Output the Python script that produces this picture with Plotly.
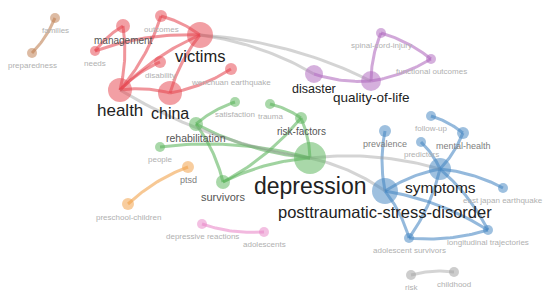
import plotly.graph_objects as go
import numpy as np

# ---------------- data ----------------
names = ["families", "preparedness",
         "victims", "management", "outcomes", "needs", "disability", "wenchuan earthquake", "health", "china",
         "depression", "rehabilitation", "satisfaction", "trauma", "risk-factors", "people", "survivors",
         "ptsd", "preschool-children",
         "depressive reactions", "adolescents",
         "disaster", "quality-of-life", "spinal-cord-injury", "functional outcomes",
         "posttraumatic-stress-disorder", "symptoms", "prevalence", "follow-up", "predictors", "mental-health",
         "east japan earthquake", "longitudinal trajectories", "adolescent survivors",
         "risk", "childhood"]
node_x = [55, 32,
          200, 123, 161, 95, 160, 231, 120, 170,
          310, 196, 235, 270, 301, 160, 223,
          188, 128,
          202, 264,
          314, 371, 381, 431,
          385, 440, 385, 431, 421, 463, 503, 488, 409,
          411, 454]
node_y = [18, 53,
          35, 26, 16, 51, 62, 69, 90, 93,
          158, 124, 102, 104, 118, 147, 182,
          167, 204,
          224, 232,
          74, 81, 33, 59,
          191, 169, 131, 116, 142, 133, 188, 230, 238,
          275, 272]
node_r = [5, 5,
          13, 7, 6, 5, 6, 6, 12, 12,
          16, 7, 5, 5, 6, 5, 7,
          6, 6,
          5, 5,
          9, 10, 5, 5,
          13, 11, 6, 5, 5, 6, 5, 5, 5,
          5, 5]
cluster = ["brown", "brown",
           "red", "red", "red", "red", "red", "red", "red", "red",
           "green", "green", "green", "green", "green", "green", "green",
           "orange", "orange",
           "pink", "pink",
           "purple", "purple", "purple", "purple",
           "blue", "blue", "blue", "blue", "blue", "blue", "blue", "blue", "blue",
           "grey", "grey"]
label_size = [8, 8,
              16.5, 10, 8, 8, 8, 8, 17, 16,
              23, 10.5, 8, 8, 10, 8, 11,
              9, 8,
              8, 8,
              12.5, 13.5, 8, 8,
              16.5, 15.5, 9, 8, 8, 9, 8, 8, 8,
              8, 8]

edges = [("families", "preparedness", "brown"),
         ("needs", "management", "red"), ("needs", "victims", "red"), ("management", "health", "red"),
         ("outcomes", "victims", "red"), ("outcomes", "health", "red"), ("health", "disability", "red"),
         ("health", "victims", "red"), ("china", "victims", "red"), ("wenchuan earthquake", "china", "red"),
         ("health", "china", "red"),
         ("rehabilitation", "satisfaction", "green"), ("depression", "rehabilitation", "green"),
         ("rehabilitation", "survivors", "green"), ("people", "depression", "green"),
         ("survivors", "depression", "green"), ("risk-factors", "survivors", "green"),
         ("trauma", "risk-factors", "green"), ("risk-factors", "depression", "green"),
         ("preschool-children", "ptsd", "orange"),
         ("adolescents", "depressive reactions", "pink"),
         ("quality-of-life", "disaster", "purple"), ("quality-of-life", "spinal-cord-injury", "purple"),
         ("functional outcomes", "quality-of-life", "purple"), ("spinal-cord-injury", "functional outcomes", "purple"),
         ("posttraumatic-stress-disorder", "prevalence", "blue"), ("follow-up", "mental-health", "blue"),
         ("mental-health", "symptoms", "blue"), ("predictors", "symptoms", "blue"),
         ("posttraumatic-stress-disorder", "symptoms", "blue"), ("symptoms", "east japan earthquake", "blue"),
         ("symptoms", "longitudinal trajectories", "blue"), ("symptoms", "adolescent survivors", "blue"),
         ("posttraumatic-stress-disorder", "longitudinal trajectories", "blue"),
         ("posttraumatic-stress-disorder", "adolescent survivors", "blue"),
         ("longitudinal trajectories", "adolescent survivors", "blue"),
         ("risk", "childhood", "grey"),
         ("victims", "disaster", "grey"), ("victims", "quality-of-life", "grey"),
         ("depression", "health", "grey"), ("depression", "symptoms", "grey"),
         ("depression", "posttraumatic-stress-disorder", "grey")]

palette = {"red": (230, 72, 82), "green": (92, 180, 92), "blue": (70, 135, 195),
           "purple": (175, 105, 190), "orange": (242, 160, 70), "pink": (232, 135, 200),
           "brown": (190, 125, 80), "grey": (160, 160, 160)}

idx = {n: i for i, n in enumerate(names)}
fig = go.Figure()

# edges as gently curved lines
for a, b, c in edges:
    x0, y0 = node_x[idx[a]], node_y[idx[a]]
    x1, y1 = node_x[idx[b]], node_y[idx[b]]
    dx, dy = x1 - x0, y1 - y0
    mx, my = (x0 + x1) / 2, (y0 + y1) / 2
    k = 0.1
    cx, cy = mx + dy * k, my - dx * k
    t = np.linspace(0, 1, 30)
    bx = (1 - t) ** 2 * x0 + 2 * (1 - t) * t * cx + t ** 2 * x1
    by = (1 - t) ** 2 * y0 + 2 * (1 - t) * t * cy + t ** 2 * y1
    r, g, bb = palette[c]
    alpha = 0.45 if c == "grey" else 0.58
    fig.add_trace(go.Scatter(x=bx, y=by, mode="lines", hoverinfo="skip",
                             line=dict(color=f"rgba({r},{g},{bb},{alpha})", width=3),
                             showlegend=False))

# nodes
fig.add_trace(go.Scatter(
    x=node_x, y=node_y, mode="markers",
    marker=dict(size=[2 * r for r in node_r],
                color=[f"rgba({palette[c][0]},{palette[c][1]},{palette[c][2]},0.75)" for c in cluster],
                line=dict(width=0)),
    text=names, hoverinfo="text", showlegend=False))

# labels
for i, n in enumerate(names):
    s = label_size[i]
    if s >= 12:
        col = "#222222"
        off = node_r[i] + s * 0.5
    elif s >= 10:
        col = "#555555"
        off = node_r[i] + s * 0.5 + 2
    elif s >= 9:
        col = "#808080"
        off = node_r[i] + s * 0.5 + 2.5
    else:
        col = "#b0b0b0"
        off = node_r[i] + s * 0.5 + 3
    fig.add_annotation(x=node_x[i], y=node_y[i] + off, text=n, showarrow=False,
                       font=dict(family="Liberation Sans, Arial", size=s, color=col),
                       xanchor="center", yanchor="middle")

fig.update_layout(width=544, height=298, margin=dict(l=0, r=0, t=0, b=0),
                  plot_bgcolor="white", paper_bgcolor="white",
                  xaxis=dict(range=[0, 544], visible=False, fixedrange=True),
                  yaxis=dict(range=[298, 0], visible=False, fixedrange=True))
fig.write_html("out.html", config={"displayModeBar": False},
               post_script="document.body.style.margin='0px';")
